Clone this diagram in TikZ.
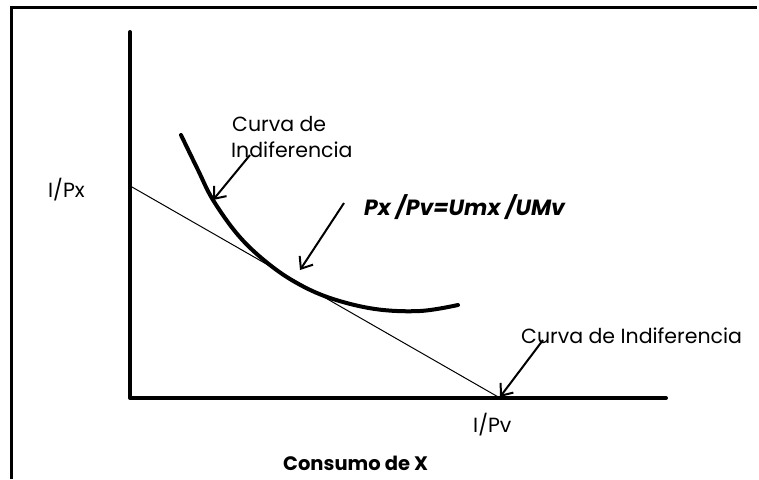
\documentclass[tikz,border=0pt]{standalone}
\usepackage{fontspec}
\setmainfont{Poppins}
\usetikzlibrary{arrows.meta}
\tikzset{
  lbl/.style={inner sep=0pt, anchor=base west, font=\fontsize{20.5}{24}\selectfont},
  thick axis/.style={line width=4pt, line cap=round, line join=round},
  pointer/.style={line width=2pt, -{Straight Barb[length=10pt,width=16pt,line width=2pt]}},
}
\begin{document}
\begin{tikzpicture}[x=1pt,y=-1pt]
\useasboundingbox (0,0) rectangle (759,479);
% frame
\draw[line width=3pt] (11,479) -- (11,7) -- (757,7);
% axes
\coordinate (ytop) at (130,32);
\coordinate (o) at (130,398);
\coordinate (xend) at (666,398);
\draw[thick axis] (ytop) -- (o) -- (xend);
% budget line
\coordinate (b1) at (132,187);
\coordinate (b2) at (500,398);
\draw[line width=1pt] (b1) -- (b2);
% indifference curve
\draw[line width=4pt, line cap=round] plot[smooth, tension=0.6] coordinates
 {(181,135) (198,170) (213,200) (238,235) (265,261) (295,282) (330,298) (375,309) (420,311) (458,305)};
% labels
\node[lbl] (c1a) at (232,131) {Curva de};
\node[lbl] (c1b) at (231,157) {Indiferencia};
\node[lbl] (ipx) at (48,197) {I/Px};
\node[lbl, font=\fontsize{22}{26}\selectfont\bfseries\itshape] (eq) at (364,215) {Px /Pv=Umx /UMv};
\node[lbl] (c2) at (521,343) {Curva de Indiferencia};
\node[lbl] (ipv) at (473,432) {I/Pv};
\node[lbl, font=\fontsize{19.5}{23}\selectfont\bfseries] (cx) at (283,470) {Consumo de X};
% arrows
\coordinate (a1s) at (250,155);
\coordinate (a1e) at (213,200);
\coordinate (a2s) at (344,203);
\coordinate (a2e) at (300,270);
\coordinate (a3s) at (543,340);
\coordinate (a3e) at (500,397);
\draw[pointer] (a1s) -- (a1e);
\draw[pointer] (a2s) -- (a2e);
\draw[pointer] (a3s) -- (a3e);
\end{tikzpicture}
\end{document}
